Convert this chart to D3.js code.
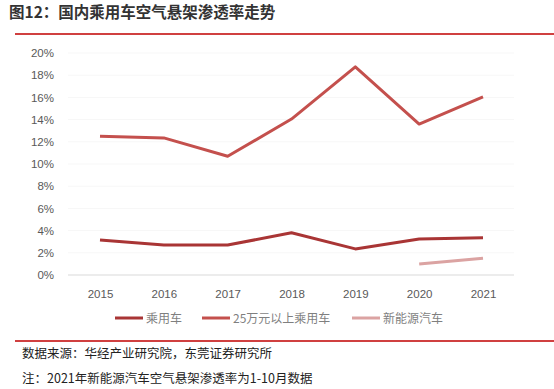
<!DOCTYPE html>
<head>
  <meta charset="utf-8">
  <script src="https://cdn.jsdelivr.net/npm/d3@7/dist/d3.min.js"></script>
  <style>
    body { margin:0; background:#fff; font-family:"Noto Sans CJK SC", "Noto Sans", sans-serif; }
  </style>
</head>
<body>
<script>
var years = ["2015", "2016", "2017", "2018", "2019", "2020", "2021"];
var passenger = [3.15, 2.7, 2.7, 3.8, 2.35, 3.25, 3.35];
var premium = [12.5, 12.35, 10.7, 14.05, 18.75, 13.6, 16.05];
var nev = [null, null, null, null, null, 1.0, 1.5];
var seriesNames = ["乘用车", "25万元以上乘用车", "新能源汽车"];
var yTicks = [0, 2, 4, 6, 8, 10, 12, 14, 16, 18, 20];

var width = 554, height = 389;
var colors = ["#a93535", "#c4504d", "#dba3a2"];

var svg = d3.select("body").append("svg")
  .attr("width", width).attr("height", height);

// title and rules
svg.append("text").attr("x", 9).attr("y", 18)
  .attr("font-size", 15.5).attr("font-weight", "bold").attr("fill", "#333")
  .text("图12：国内乘用车空气悬架渗透率走势");
svg.append("line").attr("x1", 15).attr("x2", 554).attr("y1", 34).attr("y2", 34)
  .attr("stroke", "#c00000").attr("stroke-width", 1.5);
svg.append("line").attr("x1", 15).attr("x2", 554).attr("y1", 341).attr("y2", 341)
  .attr("stroke", "#c00000").attr("stroke-width", 1.5);

var x = d3.scalePoint().domain(years).range([100, 483]);
var y = d3.scaleLinear().domain([0, 20]).range([275, 53]);

// light gridlines
svg.selectAll(".grid").data(yTicks.slice(1)).enter().append("line")
  .attr("x1", 68).attr("x2", 514)
  .attr("y1", function(d) { return y(d); }).attr("y2", function(d) { return y(d); })
  .attr("stroke", "#f7f7f7");

var yAxis = svg.append("g").attr("transform", "translate(57,0)")
  .call(d3.axisLeft(y).tickValues(yTicks).tickSize(0).tickFormat(function(d) { return d + "%"; }));
yAxis.select(".domain").remove();
yAxis.selectAll("text").attr("font-size", 11.5).attr("fill", "#595959")
  .attr("font-family", "Liberation Sans, Arial, sans-serif");

var xAxis = svg.append("g").attr("transform", "translate(0,275)")
  .call(d3.axisBottom(x).tickSize(0).tickPadding(15));
xAxis.select(".domain").attr("d", "M68,0H514").attr("stroke", "#d9d9d9");
xAxis.selectAll("text").attr("font-size", 11.5).attr("fill", "#595959")
  .attr("font-family", "Liberation Sans, Arial, sans-serif");

var line = d3.line()
  .defined(function(d) { return d != null; })
  .x(function(d, i) { return x(years[i]); })
  .y(function(d) { return y(d); });

[passenger, premium, nev].forEach(function(s, k) {
  svg.append("path").datum(s)
    .attr("d", line)
    .attr("fill", "none")
    .attr("stroke", colors[k])
    .attr("stroke-width", 3)
    .attr("stroke-linejoin", "round");
});

// legend
var legX = [115, 202, 352];
var lg = svg.selectAll(".leg").data(seriesNames).enter().append("g")
  .attr("transform", function(d, i) { return "translate(" + legX[i] + ",318)"; });
lg.append("line").attr("x1", 0).attr("x2", 28).attr("y1", 0).attr("y2", 0)
  .attr("stroke", function(d, i) { return colors[i]; }).attr("stroke-width", 3);
lg.append("text").attr("x", 31).attr("y", 5).attr("font-size", 12).attr("fill", "#7f7f7f")
  .text(function(d) { return d; });

svg.append("text").attr("x", 22).attr("y", 358).attr("font-size", 12.5).attr("fill", "#222")
  .text("数据来源：华经产业研究院，东莞证券研究所");
svg.append("text").attr("x", 22).attr("y", 383).attr("font-size", 12.5).attr("fill", "#222")
  .text("注：2021年新能源汽车空气悬架渗透率为1-10月数据");
</script>
</body>
